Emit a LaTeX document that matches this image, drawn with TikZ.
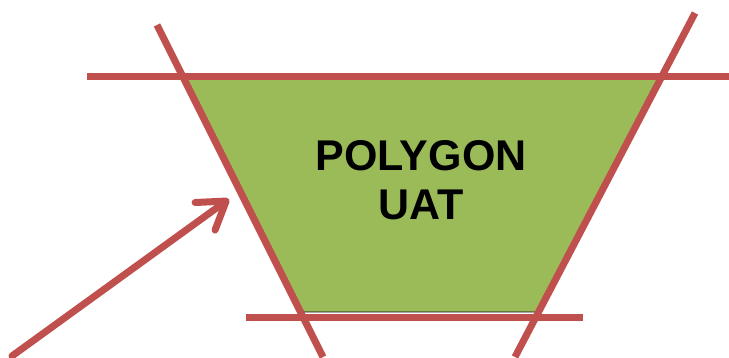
\documentclass[tikz,border=0pt]{standalone}
\usepackage{fontspec}
\setmainfont{Liberation Sans}
\usetikzlibrary{arrows.meta}
\definecolor{leaf}{HTML}{9BBB59}
\definecolor{brick}{HTML}{C0504D}
\tikzset{
  cutline/.style={draw=brick, line width=7pt},
  pointer/.style={draw=brick, line width=7pt, line cap=round,
    -{Straight Barb[length=26pt, width=34pt, round]}},
  label/.style={font=\bfseries\fontsize{43pt}{49pt}\selectfont, align=center, inner sep=0pt}
}
\begin{document}
\begin{tikzpicture}[x=1pt, y=-1pt]
  \useasboundingbox (0,0) rectangle (729,358);

  % corners of the clipped region
  \coordinate (tl) at (183,77);
  \coordinate (tr) at (661,77);
  \coordinate (br) at (538.6,312);
  \coordinate (bl) at (300.5,312);

  % filled polygon with a thin outline
  \path[fill=leaf, draw=black, line width=0.8pt] (tl) -- (tr) -- (br) -- (bl) -- cycle;

  % label
  \node[label] (name) at (421,180) {POLYGON\\UAT};

  % clipping lines
  \coordinate (topA) at (87,77);
  \coordinate (topB) at (729,77);
  \coordinate (leftA) at (157,25);
  \coordinate (leftB) at (323,357);
  \coordinate (rightA) at (695,13);
  \coordinate (rightB) at (515,357);
  \coordinate (botA) at (246,318);
  \coordinate (botB) at (583,318);
  \draw[cutline] (topA) -- (topB);
  \draw[cutline] (leftA) -- (leftB);
  \draw[cutline] (rightA) -- (rightB);
  \draw[cutline] (botA) -- (botB);

  % pointer to the left edge
  \coordinate (tail) at (12,356);
  \coordinate (tip) at (229,199);
  \draw[pointer] (tail) -- (tip);
\end{tikzpicture}
\end{document}
